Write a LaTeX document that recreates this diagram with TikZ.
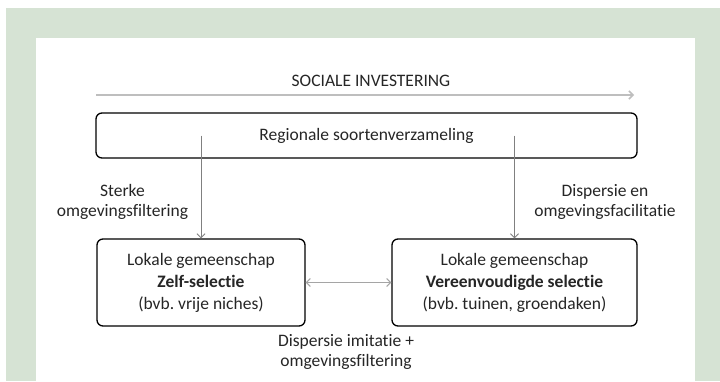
\documentclass[tikz,border=0pt]{standalone}
\usepackage{fontspec}
\setmainfont[Ligatures=NoCommon]{Carlito}
\frenchspacing
\usetikzlibrary{arrows.meta}
\definecolor{bggreen}{RGB}{214,227,212}
\definecolor{txt}{RGB}{38,38,38}
\definecolor{linegray}{RGB}{128,128,128}
\definecolor{lightgray2}{RGB}{190,190,190}
\definecolor{midgray}{RGB}{165,165,165}
\tikzset{
  box/.style={draw=black, line width=1.3pt, rounded corners=6pt, fill=white, align=center, text=txt,
    font=\fontsize{17.5}{22}\selectfont, inner sep=0pt},
  lbl/.style={align=center, text=txt, font=\fontsize{17.5}{20}\selectfont, inner sep=0pt},
  tip/.style={-{Straight Barb[length=4pt,width=8pt]}},
  vline/.style={draw=linegray, line width=0.9pt, tip},
}
\begin{document}
\begin{tikzpicture}[x=1pt,y=-1pt]
\useasboundingbox (0,0) rectangle (720,381);
\fill[white] (0,0) rectangle (720,381);
\fill[bggreen] (6,8) rectangle (720,381);
\fill[white] (36,38) rectangle (695,381);

\node[lbl] (title) at (371,81) {SOCIALE INVESTERING};
\coordinate (arrS) at (96,95);
\coordinate (arrE) at (634,95);
\draw[draw=lightgray2, line width=1.5pt, tip] (arrS) -- (arrE);

\node[box, minimum width=541pt, minimum height=45pt] (reg) at (366.5,135.5) {Regionale soortenverzameling};

\node[box, minimum width=208pt, minimum height=87pt] (lbox) at (201,282.5)
  {Lokale gemeenschap\\\textbf{Zelf-selectie}\\(bvb. vrije niches)};
\node[box, minimum width=245pt, minimum height=87pt] (rbox) at (514.5,282.5)
  {Lokale gemeenschap\\\textbf{Vereenvoudigde selectie}\\(bvb. tuinen, groendaken)};

\draw[vline] (lbox.north |- reg.center) -- (lbox.north);
\draw[vline] (rbox.north |- reg.center) -- (rbox.north);
\draw[draw=midgray, line width=1pt, {Straight Barb[length=4pt,width=8pt]}-{Straight Barb[length=4pt,width=8pt]}] (lbox.east) -- (rbox.west);

\node[lbl] (llbl) at (122.5,202) {Sterke\\omgevingsfiltering};
\node[lbl] (rlbl) at (605,202) {Dispersie en\\omgevingsfacilitatie};
\node[lbl] (blbl) at (346,352) {Dispersie imitatie +\\omgevingsfiltering};
\end{tikzpicture}
\end{document}
